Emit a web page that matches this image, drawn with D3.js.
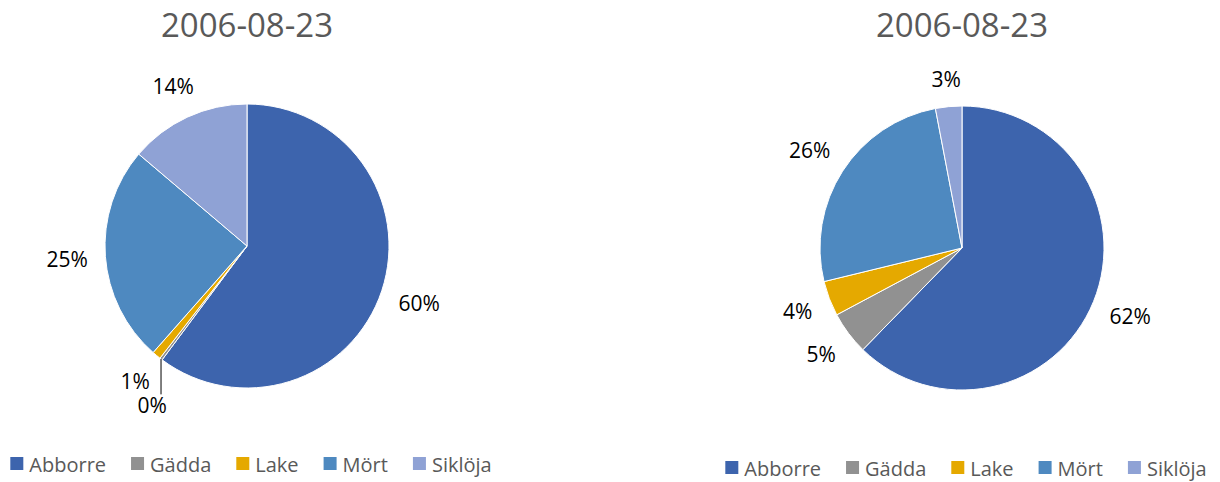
<!DOCTYPE html>
<html>
<head>
<meta charset="utf-8">
<script src="https://cdn.jsdelivr.net/npm/d3@7"></script>
<style>
  html, body { margin: 0; padding: 0; background: #fff; }
  svg { display: block; font-family: "Open Sans", "Noto Sans", sans-serif; }
</style>
</head>
<body>
<svg id="chart" width="1220" height="482"></svg>
<script>
// Species caught, share of the total per sampling (percent)
const species = ["Abborre", "Gädda", "Lake", "Mört", "Siklöja"];
const speciesColors = ["#3D64AD", "#919191", "#E5A900", "#4E89C0", "#8FA2D5"];
const leftTitle = "2006-08-23";
const leftShares = [60.2, 0.3, 1.0, 24.7, 13.8];
const rightTitle = "2006-08-23";
const rightShares = [62.3, 4.9, 4.0, 25.8, 3.0];

const svg = d3.select("#chart");
const color = d3.scaleOrdinal().domain(species).range(speciesColors);

function drawPie(cx, cy, r, title, shares, legendY) {
  const g = svg.append("g");
  const total = d3.sum(shares);
  const rows = species.map((s, i) => ({ name: s, value: shares[i] }));

  g.append("text")
    .attr("x", cx).attr("y", 37)
    .attr("text-anchor", "middle")
    .attr("font-size", 33)
    .attr("fill", "#595959")
    .text(title);

  const pie = d3.pie().sort(null).value(d => d.value);
  const arc = d3.arc().innerRadius(0).outerRadius(r);
  const arcs = pie(rows);

  const pg = g.append("g").attr("transform", `translate(${cx},${cy})`);
  pg.selectAll("path").data(arcs).join("path")
    .attr("d", arc)
    .attr("fill", d => color(d.data.name))
    .attr("stroke", "#fff")
    .attr("stroke-width", 1);

  // Outside-end data labels; larger slices keep their spot, smaller ones
  // that collide are nudged down with a leader line
  const gap = 17;
  const placed = [];
  arcs.slice().sort((a, b) => b.value - a.value).forEach(a => {
    const pct = Math.round(a.data.value / total * 100) + "%";
    const t = pg.append("text")
      .attr("font-size", 21)
      .attr("fill", "#000")
      .attr("text-anchor", "middle")
      .attr("dominant-baseline", "central")
      .text(pct);
    const w = t.node().getComputedTextLength();
    const h = 18;
    const mid = (a.startAngle + a.endAngle) / 2;
    const s = Math.sin(mid), c = -Math.cos(mid);
    const d = r + gap + Math.abs(s) * w / 2 + Math.abs(c) * h / 2;
    let x = s * d, y = c * d;
    const hit = placed.find(p => Math.abs(p.x - x) < (p.w + w) / 2 && Math.abs(p.y - y) < (p.h + h) / 2);
    if (hit) {
      const ex = Math.sin(mid) * r, ey = -Math.cos(mid) * r;
      y = hit.y + h * 1.35;
      x = ex - w * 0.3;
      pg.append("line")
        .attr("x1", ex).attr("y1", ey)
        .attr("x2", ex).attr("y2", y - h / 2 - 2)
        .attr("stroke", "#000").attr("stroke-width", 1);
    }
    t.attr("x", x).attr("y", y);
    placed.push({ x, y, w, h });
  });

  // Legend row, centred under the pie
  const lg = g.append("g");
  const itemGap = 25;
  let lx = 0;
  species.forEach(s => {
    const item = lg.append("g").attr("transform", `translate(${lx},0)`);
    item.append("rect")
      .attr("x", 0).attr("y", -7).attr("width", 13).attr("height", 13)
      .attr("fill", color(s));
    const t = item.append("text")
      .attr("x", 19).attr("y", 0)
      .attr("dominant-baseline", "central")
      .attr("font-size", 20)
      .attr("fill", "#595959")
      .text(s);
    lx += 19 + t.node().getComputedTextLength() + itemGap;
  });
  const lw = lx - itemGap;
  lg.attr("transform", `translate(${cx + 4 - lw / 2},${legendY})`);
}

drawPie(247, 246, 142, leftTitle, leftShares, 464);
drawPie(962, 248, 142, rightTitle, rightShares, 468);
</script>
</body>
</html>
